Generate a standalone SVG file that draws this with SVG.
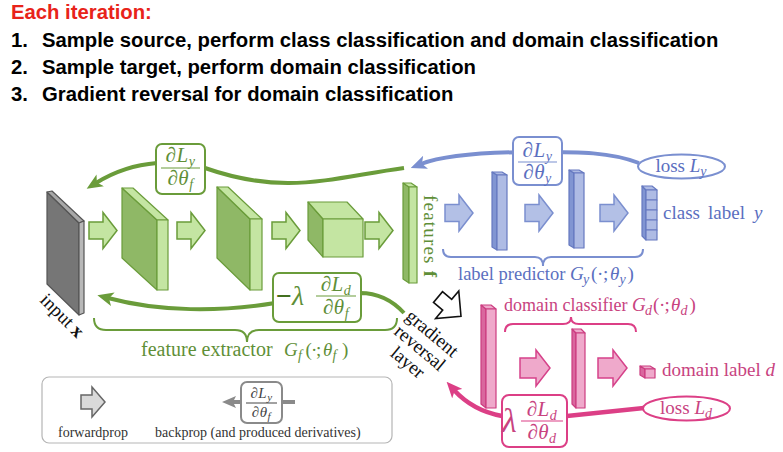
<svg xmlns="http://www.w3.org/2000/svg" width="783" height="452" viewBox="0 0 783 452">
<style>
.hdr{font-family:"Liberation Sans",Arial,sans-serif;font-weight:bold;font-size:20.3px;fill:#000}
.t{font-family:"Liberation Serif","Times New Roman",serif;font-size:19px}
.m{font-family:"Liberation Serif","Times New Roman",serif;font-size:21px;font-style:italic;text-anchor:middle;letter-spacing:0.5px}
.sub{font-size:14px;font-style:italic}
.i{font-style:italic}
.g{fill:#5f8f38}.gs{stroke:#6a9c3a}
.b{fill:#5b6fc0}.bs{stroke:#7a8fd0}
.p{fill:#c8437f}.ps{stroke:#dc3f86}
.box{fill:#fff;stroke-width:2}
.line{fill:none;stroke-width:4}
.gside{fill:#8fb866;stroke:#6a9c3a;stroke-width:1.2;stroke-linejoin:round}
.gfront{fill:#c4e5a2;stroke:#6a9c3a;stroke-width:1.2;stroke-linejoin:round}
.bside{fill:#8195d2;stroke:#6679c0;stroke-width:1.2;stroke-linejoin:round}
.bfront{fill:#aebbe4;stroke:#6679c0;stroke-width:1.2;stroke-linejoin:round}
.pside{fill:#d9679e;stroke:#cc3d80;stroke-width:1.2;stroke-linejoin:round}
.pfront{fill:#efa9cb;stroke:#cc3d80;stroke-width:1.2;stroke-linejoin:round}
.garrow{fill:#c4e5a2;stroke:#6a9c3a;stroke-width:1.5;stroke-linejoin:miter}
.barrow{fill:#b3c0e6;stroke:#7b8fcf;stroke-width:1.5}
.parrow{fill:#efa9cb;stroke:#d6428a;stroke-width:1.5}
.brace{fill:none;stroke-width:2}
</style>
<defs>
<path id="fat" d="M0,-8.5 H14 V-18 L28,0 L14,18 V8.5 H0 Z"/>
<marker id="mg" markerUnits="userSpaceOnUse" markerWidth="16" markerHeight="14" viewBox="0 0 16 14" refX="5" refY="7" orient="auto"><path d="M0,0 L16,7 L0,14 L4,7 Z" fill="#6a9c3a"/></marker>
<marker id="mb" markerUnits="userSpaceOnUse" markerWidth="16" markerHeight="14" viewBox="0 0 16 14" refX="5" refY="7" orient="auto"><path d="M0,0 L16,7 L0,14 L4,7 Z" fill="#7a8fd0"/></marker>
<marker id="mp" markerUnits="userSpaceOnUse" markerWidth="16" markerHeight="14" viewBox="0 0 16 14" refX="5" refY="7" orient="auto"><path d="M0,0 L16,7 L0,14 L4,7 Z" fill="#dc3f86"/></marker>
<marker id="mgr" markerUnits="userSpaceOnUse" markerWidth="14" markerHeight="12" viewBox="0 0 14 12" refX="4" refY="6" orient="auto"><path d="M0,0 L14,6 L0,12 L3,6 Z" fill="#8a8a8a"/></marker>
</defs>

<g id="header">
<text x="11" y="19" class="hdr" style="fill:#e8231a">Each iteration:</text>
<text x="11" y="47" class="hdr">1.</text><text x="42" y="47" class="hdr">Sample source, perform class classification and domain classification</text>
<text x="11" y="74" class="hdr">2.</text><text x="42" y="74" class="hdr">Sample target, perform domain classification</text>
<text x="11" y="101" class="hdr">3.</text><text x="42" y="101" class="hdr">Gradient reversal for domain classification</text>
</g>

<g id="connectors">
<path class="line gs" d="M404,168 C 330,178 285,196 205,168 L 157,163 C 132,165 112,173 96,183" marker-end="url(#mg)"/>
<path class="line bs" d="M639,163 C 610,152 580,152 537,152 C 480,152 442,156 421,164" marker-end="url(#mb)"/>
<path class="line gs" d="M404,313 C 392,300 378,293 360,293 L 275,303 C 220,312 160,312 108,298" marker-end="url(#mg)"/>
<path class="line ps" style="stroke-width:4.5" d="M644,408 L 567,416 L 502,416 C 480,412 464,401 454,390" marker-end="url(#mp)"/>
</g>

<g id="input-x">
<polygon points="47,192 79,223 79,315 47,284" fill="#767676" stroke="#555" stroke-width="1.2" stroke-linejoin="round"/>
<polygon points="47,192 52,191 84,221 79,223" fill="#a8a8a8" stroke="#555" stroke-width="1.2" stroke-linejoin="round"/>
<polygon points="79,223 84,221 84,313 79,315" fill="#b8b8b8" stroke="#555" stroke-width="1.2" stroke-linejoin="round"/>
<text class="t" transform="translate(39,301) rotate(45)" fill="#111">input <tspan font-weight="bold">x</tspan></text>
</g>

<g id="fe-arrows">
<use href="#fat" class="garrow" transform="translate(89,230.5)"/>
<use href="#fat" class="garrow" transform="translate(177,230.5)"/>
<use href="#fat" class="garrow" transform="translate(272,230.5)"/>
<use href="#fat" class="garrow" transform="translate(365,230.5)"/>
</g>

<g id="conv1">
<polygon class="gside" points="122,188 157,220 157,290 122,258"/>
<polygon class="gfront" points="122,188 133,188 168,220 157,220"/>
<rect class="gfront" x="157" y="220" width="11" height="70"/>
</g>
<g id="conv2">
<polygon class="gside" points="217,187 250,219 250,290 217,258"/>
<polygon class="gfront" points="217,187 228,187 262,219 250,219"/>
<rect class="gfront" x="250" y="219" width="12" height="71"/>
</g>
<g id="conv3">
<polygon class="gside" points="308,202 323,219 323,257 308,240"/>
<polygon class="gfront" points="308,202 347,202 363,219 323,219"/>
<rect class="gfront" x="323" y="219" width="40" height="38"/>
</g>

<g id="features-f">
<polygon class="gside" points="403,183 409,187 409,283 403,279"/>
<polygon class="gfront" points="403,183 411,183 417,187 409,187"/>
<rect class="gfront" x="409" y="187" width="8" height="96"/>
<text class="t g" transform="translate(424,195) rotate(90)" textLength="82">features <tspan font-weight="bold">f</tspan></text>
</g>

<g id="grad-fy">
<rect class="box gs" x="156" y="144" width="49" height="50" rx="6"/>
<text class="m g" x="180.5" y="162">∂L<tspan class="sub" dy="4">y</tspan></text>
<line class="gs" x1="161" y1="168" x2="200" y2="168" stroke-width="1.2"/>
<text class="m g" x="180.5" y="185">∂θ<tspan class="sub" dy="4">f</tspan></text>
</g>

<g id="grad-fd">
<rect class="box gs" x="273" y="273" width="88" height="49" rx="6"/>
<text class="t g" x="276" y="305" style="font-size:28px"><tspan font-weight="bold" fill="#43701f">−</tspan><tspan class="i">λ</tspan></text>
<text class="m g" x="336" y="291">∂L<tspan class="sub" dy="4">d</tspan></text>
<line class="gs" x1="316" y1="296" x2="356" y2="296" stroke-width="1.2"/>
<text class="m g" x="336" y="314">∂θ<tspan class="sub" dy="4">f</tspan></text>
</g>

<g id="fe-brace">
<path class="brace gs" d="M94,318 Q94,330 106,330 L235,330 Q247,330 247,342 Q247,330 259,330 L385,330 Q397,330 397,318"/>
<text class="t g" y="356"><tspan x="141" style="font-size:20px">feature extractor</tspan><tspan class="i" x="284">G</tspan><tspan class="sub" x="298" dy="4">f</tspan><tspan x="305.5" dy="-4">(</tspan><tspan x="311">·</tspan><tspan x="316">;</tspan><tspan class="i" x="323">θ</tspan><tspan class="sub" x="332.5" dy="4">f</tspan><tspan x="342" dy="-4">)</tspan></text>
</g>

<g id="lp-arrows">
<use href="#fat" class="barrow" transform="translate(445,213)"/>
<use href="#fat" class="barrow" transform="translate(525,213)"/>
<use href="#fat" class="barrow" transform="translate(600,213)"/>
</g>
<g id="lp-fc1">
<polygon class="bside" points="492,172 497,175 497,250 492,247"/>
<polygon class="bfront" points="492,172 502,172 507,175 497,175"/>
<rect class="bfront" x="497" y="175" width="10" height="75"/>
</g>
<g id="lp-fc2">
<polygon class="bside" points="569,170 574,173 574,248 569,245"/>
<polygon class="bfront" points="569,170 579,170 584,173 574,173"/>
<rect class="bfront" x="574" y="173" width="10" height="75"/>
</g>
<g id="class-label">
<polygon class="bside" points="642,186 646,190 646,240 642,236"/>
<polygon class="bfront" points="642,186 652,186 657,190 646,190"/>
<rect class="bfront" x="646" y="190" width="11" height="10"/>
<rect class="bfront" x="646" y="200" width="11" height="10"/>
<rect class="bfront" x="646" y="210" width="11" height="10"/>
<rect class="bfront" x="646" y="220" width="11" height="10"/>
<rect class="bfront" x="646" y="230" width="11" height="10"/>
<text class="t b" y="219"><tspan x="663">class</tspan><tspan x="708">label</tspan><tspan class="i" x="754">y</tspan></text>
</g>
<g id="grad-y">
<rect class="box bs" x="513" y="137" width="49" height="48" rx="6"/>
<text class="m b" x="537.5" y="157">∂L<tspan class="sub" dy="4">y</tspan></text>
<line class="bs" x1="518" y1="162" x2="557" y2="162" stroke-width="1.2"/>
<text class="m b" x="537.5" y="179">∂θ<tspan class="sub" dy="4">y</tspan></text>
</g>
<g id="loss-y">
<ellipse class="box bs" cx="681.5" cy="166.5" rx="43.5" ry="12"/>
<text class="t b" x="681" y="172" text-anchor="middle">loss <tspan class="i">L</tspan><tspan class="sub" dy="4">y</tspan></text>
</g>
<g id="lp-brace">
<path class="brace bs" d="M443,249 Q443,257 451,257 L535,257 Q543,257 543,266 Q543,257 551,257 L635,257 Q643,257 643,249"/>
<text class="t b" y="280"><tspan x="458" style="font-size:18.5px">label predictor</tspan><tspan class="i" x="570">G</tspan><tspan class="sub" x="583" dy="4">y</tspan><tspan x="591" dy="-4">(</tspan><tspan x="597">·</tspan><tspan x="603">;</tspan><tspan class="i" x="610">θ</tspan><tspan class="sub" x="619.5" dy="4">y</tspan><tspan x="627.5" dy="-4">)</tspan></text>
</g>

<g id="grl">
<path d="M0,-7 H12 V-18 L30,0 L12,18 V7 H0 Z" transform="translate(438,297) rotate(40)" fill="#fff" stroke="#111" stroke-width="1.6"/>
<g transform="translate(410,307) rotate(40)">
<text class="t" x="34" y="12" text-anchor="middle" fill="#111">gradient</text>
<text class="t" x="34" y="31" text-anchor="middle" fill="#111">reversal</text>
<text class="t" x="34" y="50" text-anchor="middle" fill="#111">layer</text>
</g>
</g>

<g id="dc-fc1">
<polygon class="pside" points="481,305 486,309 486,408 481,404"/>
<polygon class="pfront" points="481,305 491,305 496,309 486,309"/>
<rect class="pfront" x="486" y="309" width="10" height="99"/>
</g>
<g id="dc-arrows">
<path class="parrow" d="M520,358 H536 V350 L550,368 L536,386 V378 H520 Z"/>
<path class="parrow" d="M598,358 H613 V350 L627,368 L613,386 V378 H598 Z"/>
</g>
<g id="dc-fc2">
<polygon class="pside" points="572,329 576,333 576,408 572,404"/>
<polygon class="pfront" points="572,329 581,329 585,333 576,333"/>
<rect class="pfront" x="576" y="333" width="9" height="75"/>
</g>
<g id="domain-label">
<polygon class="pside" points="640,366 645,369 645,378 640,375"/>
<polygon class="pfront" points="640,366 650,366 655,369 645,369"/>
<rect class="pfront" x="645" y="369" width="10" height="9"/>
<text class="t p" x="662" y="376">domain label <tspan class="i">d</tspan></text>
</g>
<g id="dc-brace">
<path class="brace ps" d="M505,332 Q505,324 513,324 L563,324 Q571,324 571,317 Q571,324 579,324 L628,324 Q636,324 636,332"/>
<text class="t p" y="311"><tspan x="504" style="font-size:18px">domain classifier</tspan><tspan class="i" x="632">G</tspan><tspan class="sub" x="645" dy="4">d</tspan><tspan x="653" dy="-4">(</tspan><tspan x="659">·</tspan><tspan x="664.5">;</tspan><tspan class="i" x="671">θ</tspan><tspan class="sub" x="680.5" dy="4">d</tspan><tspan x="689.5" dy="-4">)</tspan></text>
</g>
<g id="grad-d">
<rect class="box ps" x="502" y="395" width="65" height="52" rx="7"/>
<text class="t p i" x="502" y="432" style="font-size:34px">λ</text>
<text class="m p" x="542" y="416">∂L<tspan class="sub" dy="4">d</tspan></text>
<line class="ps" x1="521" y1="421" x2="563" y2="421" stroke-width="1.2"/>
<text class="m p" x="542" y="439">∂θ<tspan class="sub" dy="4">d</tspan></text>
</g>
<g id="loss-d">
<ellipse class="box ps" cx="686.5" cy="408.5" rx="43.5" ry="12"/>
<text class="t p" x="686" y="414" text-anchor="middle">loss <tspan class="i">L</tspan><tspan class="sub" dy="4">d</tspan></text>
</g>

<g id="legend">
<rect x="42" y="377" width="350" height="66" rx="7" fill="#fff" stroke="#b5b5b5" stroke-width="1.2"/>
<path d="M81,395 H92 V387 L105,402 L92,417 V409 H81 Z" fill="#d9d9d9" stroke="#666" stroke-width="1.5"/>
<text class="t" x="58" y="437" style="font-size:14px" fill="#333">forwardprop</text>
<line x1="295" y1="402" x2="232" y2="402" stroke="#8a8a8a" stroke-width="4" marker-end="url(#mgr)"/>
<rect x="241" y="382" width="41" height="41" rx="6" fill="#fff" stroke="#8a8a8a" stroke-width="2"/>
<text class="m" x="261.5" y="398" style="font-size:15px;fill:#444">∂L<tspan class="sub" dy="3" style="font-size:11px">y</tspan></text>
<line x1="246" y1="403" x2="277" y2="403" stroke="#444" stroke-width="1"/>
<text class="m" x="261.5" y="417" style="font-size:15px;fill:#444">∂θ<tspan class="sub" dy="3" style="font-size:11px">f</tspan></text>
<text class="t" x="155" y="437" style="font-size:14px" fill="#333">backprop (and produced derivatives)</text>
</g>
</svg>
